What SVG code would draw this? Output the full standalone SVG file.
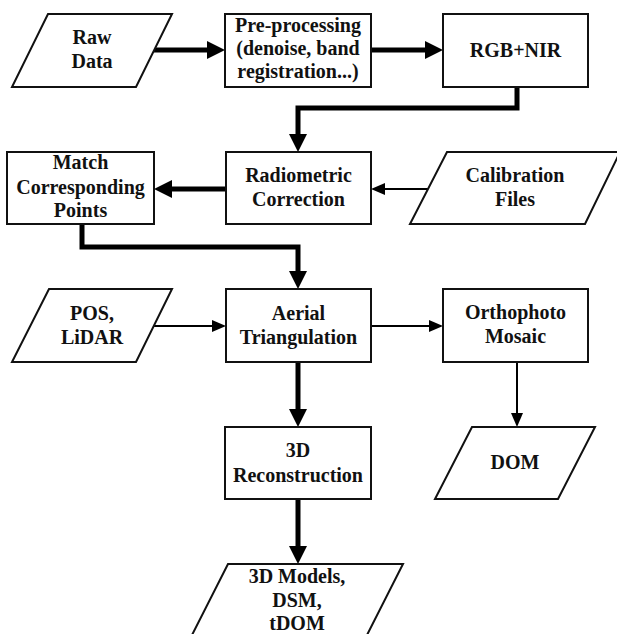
<svg xmlns="http://www.w3.org/2000/svg" width="617" height="634" viewBox="0 0 617 634">
<style>
.shape{fill:#fff;stroke:#111;stroke-width:2}
.t{font-family:'Liberation Serif','Tinos','DejaVu Serif','Times New Roman',Times,serif;font-weight:700;font-size:20px;fill:#111;text-anchor:middle}
.thick{fill:none;stroke:#000;stroke-width:5;stroke-linejoin:miter}
.thin{fill:none;stroke:#000;stroke-width:2}
</style>
<defs>
<marker id="ah" markerUnits="userSpaceOnUse" markerWidth="18" markerHeight="18" viewBox="0 0 18 18" refX="0" refY="9" orient="auto"><path d="M0,0 L18,9 L0,18 Z" fill="#000"/></marker>
<marker id="ahs" markerUnits="userSpaceOnUse" markerWidth="14" markerHeight="12" viewBox="0 0 14 12" refX="0" refY="6" orient="auto"><path d="M0,0 L14,6 L0,12 Z" fill="#000"/></marker>
</defs>
<rect width="617" height="634" fill="#fff"/>
<g id="connectors">
<path class="thick" d="M152,50 H207" marker-end="url(#ah)"/>
<path class="thick" d="M371,50 H425" marker-end="url(#ah)"/>
<path class="thick" d="M517,87 V108 H298 V134" marker-end="url(#ah)"/>
<path class="thick" d="M226,189 H172" marker-end="url(#ah)"/>
<path class="thin" d="M428,189 H385" marker-end="url(#ahs)"/>
<path class="thick" d="M82,224 V247 H298 V271" marker-end="url(#ah)"/>
<path class="thin" d="M154,326 H212" marker-end="url(#ahs)"/>
<path class="thin" d="M371,326 H429" marker-end="url(#ahs)"/>
<path class="thin" d="M517,362 V413" marker-end="url(#ahs)"/>
<path class="thick" d="M298,362 V409" marker-end="url(#ah)"/>
<path class="thick" d="M298,499 V546" marker-end="url(#ah)"/>
</g>
<g id="raw-data">
<polygon class="shape" points="48,14 172,14 136,87 12,87"/>
<text class="t" x="92" y="44">Raw</text>
<text class="t" x="92" y="68">Data</text>
</g>
<g id="pre-processing">
<rect class="shape" x="225" y="14" width="146" height="73"/>
<text class="t" x="298" y="32">Pre-processing</text>
<text class="t" x="298" y="55">(denoise, band</text>
<text class="t" x="298" y="78">registration...)</text>
</g>
<g id="rgb-nir">
<rect class="shape" x="443" y="14" width="145" height="73"/>
<text class="t" x="515.5" y="57">RGB+NIR</text>
</g>
<g id="match-points">
<rect class="shape" x="7" y="152" width="147" height="72"/>
<text class="t" x="80.5" y="169">Match</text>
<text class="t" x="80.5" y="194">Corresponding</text>
<text class="t" x="80.5" y="217">Points</text>
</g>
<g id="radiometric-correction">
<rect class="shape" x="226" y="152" width="145" height="72"/>
<text class="t" x="298.5" y="182">Radiometric</text>
<text class="t" x="298.5" y="206">Correction</text>
</g>
<g id="calibration-files">
<polygon class="shape" points="447,152 620,152 585,224 410,224"/>
<text class="t" x="515" y="182">Calibration</text>
<text class="t" x="515" y="206">Files</text>
</g>
<g id="pos-lidar">
<polygon class="shape" points="49,289 172,289 136,362 12,362"/>
<text class="t" x="92" y="320">POS,</text>
<text class="t" x="92" y="344">LiDAR</text>
</g>
<g id="aerial-triangulation">
<rect class="shape" x="226" y="289" width="145" height="73"/>
<text class="t" x="298.5" y="320">Aerial</text>
<text class="t" x="298.5" y="344">Triangulation</text>
</g>
<g id="orthophoto-mosaic">
<rect class="shape" x="443" y="289" width="145" height="73"/>
<text class="t" x="515.5" y="319">Orthophoto</text>
<text class="t" x="515.5" y="343">Mosaic</text>
</g>
<g id="dom">
<polygon class="shape" points="472,427 595,427 558,499 435,499"/>
<text class="t" x="515" y="469">DOM</text>
</g>
<g id="reconstruction-3d">
<rect class="shape" x="225" y="427" width="146" height="72"/>
<text class="t" x="298" y="457">3D</text>
<text class="t" x="298" y="482">Reconstruction</text>
</g>
<g id="models-3d">
<polygon class="shape" points="228,564 403,564 366,637 191,637"/>
<text class="t" x="297" y="583">3D Models,</text>
<text class="t" x="297" y="607">DSM,</text>
<text class="t" x="297" y="630">tDOM</text>
</g>
</svg>
